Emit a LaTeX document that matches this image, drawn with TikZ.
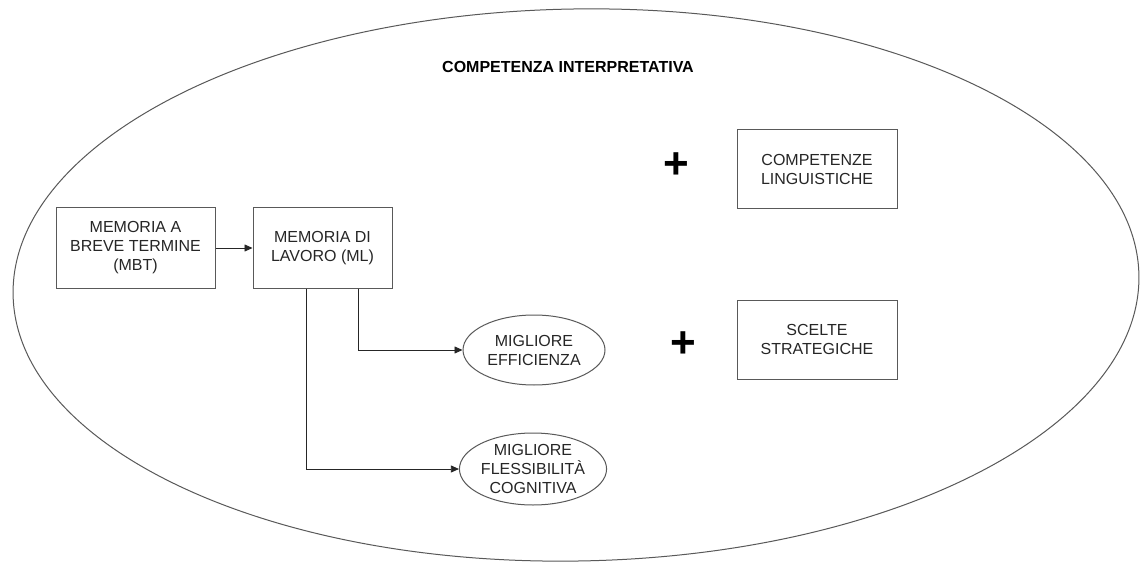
\documentclass[tikz,border=0pt]{standalone}
\usepackage{fontspec}
\setmainfont{Liberation Sans}
\usetikzlibrary{shapes.geometric,arrows.meta}
\begin{document}
\begin{tikzpicture}[x=1pt,y=-1pt,
  txt/.style={align=center, font=\fontsize{16}{19}\selectfont, text=black!85, inner sep=0pt},
  box/.style={txt, draw=black!65, line width=1pt},
  oval/.style={txt, ellipse, draw=black!65, line width=1pt},
  arr/.style={-{Triangle[length=8pt,width=7pt]}, line width=0.8pt, draw=black!85},
  plus/.style={font=\bfseries\fontsize{44}{44}\selectfont, inner sep=0pt}
]
\useasboundingbox (0,0) rectangle (1140,564);
\fill[white] (0,0) rectangle (1140,564);
\draw[draw=black!65, line width=1pt, rotate around={1:(576,285)}] (576,285) ellipse [x radius=563, y radius=276];
\node[txt, font=\bfseries\fontsize{16}{19}\selectfont, text=black] (title) at (568,67) {COMPETENZA INTERPRETATIVA};
\node[box, minimum width=159, minimum height=80] (mbt) at (135.5,248) {MEMORIA A\\BREVE TERMINE\\(MBT)};
\node[box, minimum width=139, minimum height=80] (ml) at (322.5,248) {MEMORIA DI\\LAVORO (ML)};
\node[oval, minimum width=142, minimum height=70] (eff) at (534,350) {MIGLIORE\\EFFICIENZA};
\node[oval, minimum width=140, minimum height=72] (flex) at (533,469) {MIGLIORE\\FLESSIBILITÀ\\COGNITIVA};
\node[box, minimum width=160, minimum height=79] (ling) at (817,169.5) {COMPETENZE\\LINGUISTICHE};
\node[box, minimum width=160, minimum height=79] (scel) at (817,339.5) {SCELTE\\STRATEGICHE};
\node[plus] (p1) at (676,166) {+};
\node[plus] (p2) at (683,345) {+};
\draw[arr] (mbt) -- (ml);
\draw[arr] ([xshift=35.5pt]ml.south) |- (eff.west);
\draw[arr] ([xshift=-16.5pt]ml.south) |- (flex.west);
\end{tikzpicture}
\end{document}
